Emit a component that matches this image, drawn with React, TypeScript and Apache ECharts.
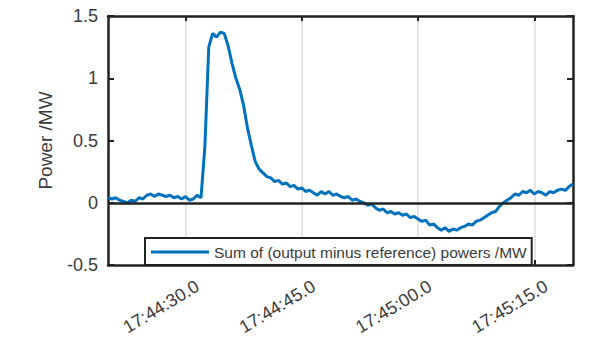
import React, { useEffect, useRef } from "react";
import * as echarts from "echarts";

// seconds after 17:44:00
const TIME_S = [
  20, 20.5, 21, 21.5, 22, 22.5, 23, 23.5, 24, 24.5,
  25, 25.5, 26, 26.5, 27, 27.5, 28, 28.5, 29, 29.5,
  30, 30.5, 31, 31.5, 32, 32.5, 33, 33.5, 34, 34.5,
  35, 35.5, 36, 36.5, 37, 37.5, 38, 38.5, 39, 39.5,
  40, 40.5, 41, 41.5, 42, 42.5, 43, 43.5, 44, 44.5,
  45, 45.5, 46, 46.5, 47, 47.5, 48, 48.5, 49, 49.5,
  50, 50.5, 51, 51.5, 52, 52.5, 53, 53.5, 54, 54.5,
  55, 55.5, 56, 56.5, 57, 57.5, 58, 58.5, 59, 59.5,
  60, 60.5, 61, 61.5, 62, 62.5, 63, 63.5, 64, 64.5,
  65, 65.5, 66, 66.5, 67, 67.5, 68, 68.5, 69, 69.5,
  70, 70.5, 71, 71.5, 72, 72.5, 73, 73.5, 74, 74.5,
  75, 75.5, 76, 76.5, 77, 77.5, 78, 78.5, 79, 79.5,
  80,
];

const POWER_MW = [
  0.04, 0.03, 0.04, 0.02, 0.01, 0.0, 0.02, 0.01, 0.04, 0.03,
  0.06, 0.07, 0.05, 0.07, 0.06, 0.05, 0.06, 0.04, 0.05, 0.03,
  0.05, 0.02, 0.03, 0.06, 0.04, 0.45, 1.25, 1.36, 1.33, 1.37,
  1.36, 1.26, 1.12, 1.0, 0.91, 0.78, 0.6, 0.46, 0.33, 0.27,
  0.24, 0.21, 0.2, 0.17, 0.18, 0.15, 0.16, 0.13, 0.14, 0.11,
  0.12, 0.09, 0.1, 0.08, 0.06, 0.09, 0.07, 0.09, 0.06, 0.07,
  0.05, 0.04, 0.05, 0.02, 0.03, 0.01, 0.0, -0.02, -0.01, -0.04,
  -0.06, -0.05, -0.08, -0.07, -0.09, -0.08, -0.1, -0.09, -0.12, -0.11,
  -0.13, -0.15, -0.14, -0.18, -0.17, -0.2, -0.22, -0.2, -0.23, -0.21,
  -0.22, -0.2, -0.19, -0.17, -0.18, -0.15, -0.14, -0.12, -0.1, -0.08,
  -0.07, -0.03, 0.0, 0.02, 0.04, 0.07, 0.06, 0.09, 0.08, 0.1,
  0.07, 0.09, 0.08, 0.06, 0.09, 0.08, 0.1, 0.11, 0.1, 0.13,
  0.15,
];

const X_MIN = 20;
const X_MAX = 80;
const X_TICKS = [30, 45, 60, 75];
const Y_MIN = -0.5;
const Y_MAX = 1.5;
const Y_STEP = 0.5;
const SERIES_NAME = "Sum of (output minus reference) powers /MW";
const Y_NAME = "Power /MW";

const FONT = "Liberation Sans, Arial, sans-serif";
const TEXT = "#3a3a3a";
const AXIS = "#222222";
const BLUE = "#0072BD";

function fmtTime(v: number): string {
  const total = 17 * 3600 + 44 * 60 + v;
  const h = Math.floor(total / 3600);
  const m = Math.floor((total % 3600) / 60);
  const s = total % 60;
  const pad = (n: number) => String(n).padStart(2, "0");
  return `${h}:${pad(m)}:${s.toFixed(1).padStart(4, "0")}`;
}

export default function App() {
  const ref = useRef<HTMLDivElement>(null);
  useEffect(() => {
    if (!ref.current) return;
    const chart = echarts.init(ref.current, null, { renderer: "svg" });
    const axisLine = { show: true, onZero: false, lineStyle: { color: AXIS, width: 2.5 } };
    chart.setOption({
      animation: false,
      backgroundColor: "#fff",
      textStyle: { fontFamily: FONT },
      grid: { left: 108, top: 16, right: 23, bottom: 81, containLabel: false },
      legend: {
        data: [SERIES_NAME],
        left: 145,
        top: 238,
        orient: "horizontal",
        backgroundColor: "#fff",
        borderColor: AXIS,
        borderWidth: 2,
        borderRadius: 0,
        padding: [6, 5, 5, 6],
        icon: "rect",
        itemWidth: 58,
        itemHeight: 3,
        itemStyle: { color: BLUE },
        textStyle: { fontSize: 15.5, color: TEXT, fontFamily: FONT },
      },
      xAxis: [
        {
          type: "value",
          min: X_MIN,
          max: X_MAX,
          position: "bottom",
          axisLine,
          axisTick: { show: true, inside: true, length: 5, customValues: X_TICKS, lineStyle: { color: AXIS, width: 2 } },
          axisLabel: {
            show: true,
            customValues: X_TICKS,
            rotate: 31,
            fontSize: 18,
            color: TEXT,
            fontFamily: FONT,
            margin: 27,
            padding: [0, -14, 0, 0],
            formatter: (v: number) => fmtTime(v),
          },
          splitLine: { show: true, lineStyle: { color: "#dcdcdc", width: 1.5 } },
        },
        {
          type: "value",
          min: X_MIN,
          max: X_MAX,
          position: "top",
          axisLine,
          axisTick: { show: true, inside: true, length: 5, customValues: X_TICKS, lineStyle: { color: AXIS, width: 2 } },
          axisLabel: { show: false },
          splitLine: { show: false },
        },
      ],
      yAxis: [
        {
          type: "value",
          min: Y_MIN,
          max: Y_MAX,
          interval: Y_STEP,
          position: "left",
          name: Y_NAME,
          nameLocation: "middle",
          nameGap: 53,
          nameTextStyle: { fontSize: 19, color: TEXT, fontFamily: FONT },
          axisLine,
          axisTick: { show: true, inside: true, length: 6, lineStyle: { color: AXIS, width: 2 } },
          axisLabel: { fontSize: 18, color: TEXT, fontFamily: FONT, margin: 10 },
          splitLine: { show: false },
        },
        {
          type: "value",
          min: Y_MIN,
          max: Y_MAX,
          interval: Y_STEP,
          position: "right",
          axisLine,
          axisTick: { show: true, inside: true, length: 6, lineStyle: { color: AXIS, width: 2 } },
          axisLabel: { show: false },
          splitLine: { show: false },
        },
      ],
      series: [
        {
          name: SERIES_NAME,
          type: "line",
          xAxisIndex: 0,
          yAxisIndex: 0,
          data: TIME_S.map((t, i) => [t, POWER_MW[i]]),
          showSymbol: false,
          symbol: "none",
          lineStyle: { color: BLUE, width: 3 },
          itemStyle: { color: BLUE },
          markLine: {
            silent: true,
            symbol: "none",
            label: { show: false },
            lineStyle: { color: AXIS, width: 2.5, type: "solid" },
            data: [{ yAxis: 0 }],
          },
          z: 3,
        },
      ],
    });
    return () => chart.dispose();
  }, []);
  return <div ref={ref} style={{ position: "absolute", left: 0, top: 0, width: 596, height: 346 }} />;
}
